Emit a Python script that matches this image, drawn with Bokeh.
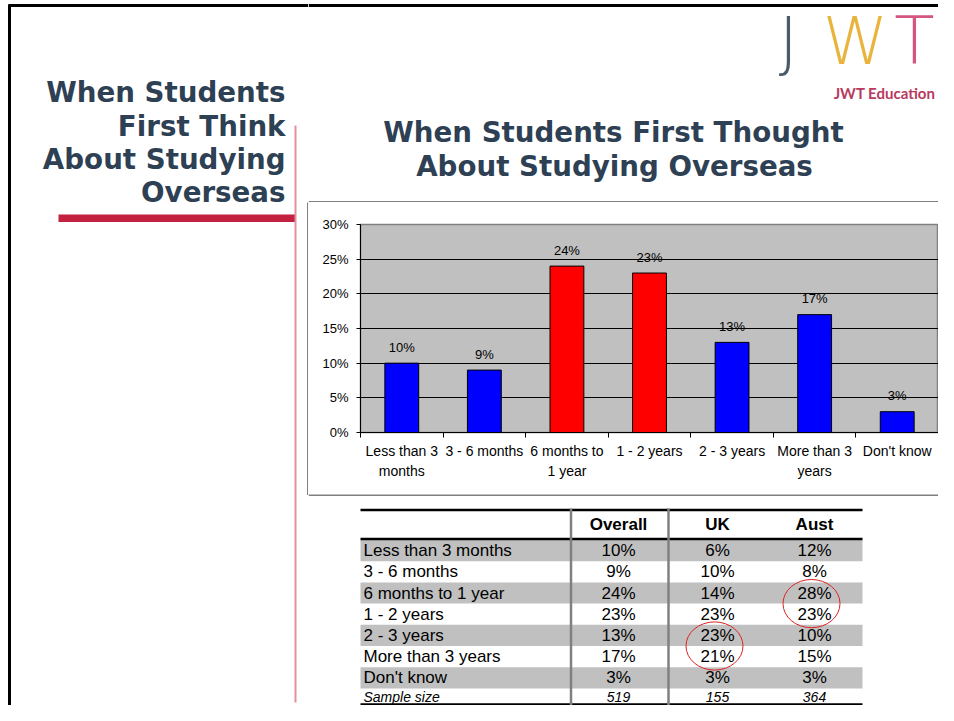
from bokeh.plotting import figure
from bokeh.layouts import row, column
from bokeh.models import Range1d, FixedTicker, NumeralTickFormatter, LabelSet, ColumnDataSource
from bokeh.core.properties import value
from bokeh.embed import file_html
from bokeh.resources import INLINE

# ---------------- data ----------------
categories = ["Less than 3 months", "3 - 6 months", "6 months to 1 year", "1 - 2 years",
              "2 - 3 years", "More than 3 years", "Don't know"]
axis_labels = ["Less than 3\nmonths", "3 - 6 months", "6 months to\n1 year", "1 - 2 years",
               "2 - 3 years", "More than 3\nyears", "Don't know"]
overall = [0.10, 0.09, 0.24, 0.23, 0.13, 0.17, 0.03]
uk = [0.06, 0.10, 0.14, 0.23, 0.23, 0.21, 0.03]
aust = [0.12, 0.08, 0.28, 0.23, 0.10, 0.15, 0.03]
highlighted = [False, False, True, True, False, False, False]
table_columns = ["Overall", "UK", "Aust"]
sample_sizes = [519, 155, 364]
circled = [("Aust", 2, 3), ("UK", 4, 5)]
y_ticks = [0.0, 0.05, 0.10, 0.15, 0.20, 0.25, 0.30]
side_title = ["When Students", "First Think", "About Studying", "Overseas"]
chart_title = ["When Students First Thought", "About Studying Overseas"]

# ---------------- style ----------------
TITLE_COLOR = "#2E4053"
TITLE_FONT = value("DejaVu Sans")
ARIAL = value("Liberation Sans")
BAR_BLUE = "#0000FF"
BAR_RED = "#FF0000"
GRAY = "#C0C0C0"

W_LEFT, W_RIGHT = 308, 630
H_HEAD, H_CHART, H_TABLE = 202, 292, 211


def canvas(w, h, x0, x1, y0, y1):
    p = figure(width=w, height=h, x_range=Range1d(x0, x1), y_range=Range1d(y1, y0),
               output_backend="svg", toolbar_location=None,
               x_axis_location=None, y_axis_location=None,
               min_border=0, outline_line_color=None)
    p.frame_align = False
    p.xgrid.visible = False
    p.ygrid.visible = False
    p.background_fill_color = "white"
    p.border_fill_color = "white"
    return p


# ---------------- left panel ----------------
left = canvas(W_LEFT, H_HEAD + H_CHART + H_TABLE, 0, W_LEFT, 0, H_HEAD + H_CHART + H_TABLE)
left.segment(x0=[8], y0=[5], x1=[W_LEFT], y1=[5], line_color="black", line_width=3)
left.segment(x0=[9], y0=[4], x1=[9], y1=[705], line_color="black", line_width=3)
left.text(x=[285] * 4, y=[92, 125.5, 158.5, 191.5], text=side_title, text_align="right",
          text_baseline="middle", text_font=TITLE_FONT, text_font_style="bold",
          text_font_size="27.7px", text_color=TITLE_COLOR)
left.quad(left=[58], right=[295], top=[214], bottom=[221.5], fill_color="#C4203F", line_color=None)
left.segment(x0=[295], y0=[125], x1=[295], y1=[702], line_color="#E38FA2", line_width=2)
left.segment(x0=[307.5], y0=[202], x1=[307.5], y1=[494.5], line_color="black", line_width=1)

# ---------------- header ----------------
x0r, x1r = W_LEFT, W_LEFT + W_RIGHT
header = canvas(W_RIGHT, H_HEAD, x0r, x1r, 0, H_HEAD)
header.segment(x0=[x0r], y0=[5], x1=[x1r], y1=[5], line_color="black", line_width=3)
header.text(x=[613, 614], y=[131.5, 165.5], text=chart_title, text_align="center",
            text_baseline="middle", text_font=TITLE_FONT, text_font_style="bold",
            text_font_size="27.7px", text_color=TITLE_COLOR)
logo_font = value("DejaVu Sans Light")
header.text(x=[788, 855, 914], y=[41, 41, 41], text=["J", "W", "T"], text_align="center",
            text_baseline="middle", text_font=logo_font, text_font_size="66px",
            text_color=["#4B5B6B", "#E9B43C", "#D4567F"])
header.text(x=[884], y=[92], text=["JWT Education"], text_align="center",
            text_baseline="middle", text_font=value("Lato"), text_font_style="bold",
            text_font_size="15px", text_color="#B83A5E")
header.segment(x0=[x0r], y0=[201.5], x1=[x1r], y1=[201.5], line_color="black", line_width=1)

# ---------------- bar chart ----------------
chart = figure(width=W_RIGHT, height=H_CHART, x_range=Range1d(-0.5, 6.5), y_range=Range1d(0, 0.30),
               output_backend="svg", toolbar_location=None,
               min_border_left=52, min_border_right=0, min_border_top=22, min_border_bottom=62)
chart.frame_align = False
chart.background_fill_color = GRAY
chart.border_fill_color = "white"
chart.outline_line_color = "#808080"
chart.outline_line_width = 1.5

src = ColumnDataSource(dict(
    x=list(range(len(categories))),
    top=overall,
    color=[BAR_RED if h else BAR_BLUE for h in highlighted],
    label=[f"{round(v * 100)}%" for v in overall],
))
chart.vbar(x="x", top="top", width=0.41, source=src, fill_color="color",
           line_color="black", line_width=1)
chart.add_layout(LabelSet(x="x", y="top", text="label", source=src, text_align="center",
                          text_baseline="middle", y_offset=16, text_font=ARIAL,
                          text_font_size="13px", text_color="black"))

chart.xgrid.visible = False
chart.ygrid.ticker = FixedTicker(ticks=y_ticks[1:-1])
chart.ygrid.grid_line_color = "black"
chart.ygrid.grid_line_width = 1

ya = chart.yaxis[0]
ya.ticker = FixedTicker(ticks=y_ticks)
ya.formatter = NumeralTickFormatter(format="0%")
ya.major_tick_out = 4
ya.major_tick_in = 0
ya.minor_tick_line_color = None
ya.major_label_standoff = 8
ya.major_label_text_font = "Liberation Sans"
ya.major_label_text_font_size = "13px"
ya.major_label_text_color = "black"
ya.axis_line_color = "black"

xa = chart.xaxis[0]
xa.ticker = FixedTicker(ticks=list(range(len(categories))),
                        minor_ticks=[i - 0.5 for i in range(len(categories) + 1)])
xa.major_label_overrides = {i: lab for i, lab in enumerate(axis_labels)}
xa.major_tick_line_color = None
xa.major_tick_out = 5
xa.major_tick_in = 0
xa.minor_tick_line_color = "black"
xa.minor_tick_out = 5
xa.minor_tick_in = 0
xa.major_label_standoff = 5
xa.major_label_text_font = "Liberation Sans"
xa.major_label_text_font_size = "14px"
xa.major_label_text_line_height = 1.28
xa.major_label_text_color = "black"
xa.axis_line_color = "black"

# ---------------- table ----------------
y0t = H_HEAD + H_CHART
table = canvas(W_RIGHT, H_TABLE, x0r, x1r, y0t, y0t + H_TABLE)
table.segment(x0=[x0r], y0=[494.5], x1=[x1r], y1=[494.5], line_color="black", line_width=1)

T_LEFT, T_RIGHT = 360, 862
col_x = [618, 717, 814]
row_top0, row_h = 539.5, 21.2
n = len(categories)
row_top = [row_top0 + k * row_h for k in range(n)]
row_mid = [t + row_h / 2 for t in row_top]

band = [k for k in range(n) if k % 2 == 0]
table.quad(left=[T_LEFT] * len(band), right=[T_RIGHT] * len(band),
           top=[row_top[k] for k in band], bottom=[row_top[k] + row_h for k in band],
           fill_color=GRAY, line_color=None)

table.text(x=[363] * n, y=row_mid, text=categories, text_align="left", text_baseline="middle",
           text_font=ARIAL, text_font_size="17px", text_color="black")
for cx, vals in zip(col_x, [overall, uk, aust]):
    table.text(x=[cx] * n, y=row_mid, text=[f"{round(v * 100)}%" for v in vals],
               text_align="center", text_baseline="middle", text_font=ARIAL,
               text_font_size="17px", text_color="black")
table.text(x=col_x, y=[524] * 3, text=table_columns, text_align="center", text_baseline="middle",
           text_font=ARIAL, text_font_style="bold", text_font_size="17px", text_color="black")
sample_y = row_top[-1] + row_h + 8.5
table.text(x=[363], y=[sample_y], text=["Sample size"], text_align="left", text_baseline="middle",
           text_font=ARIAL, text_font_style="italic", text_font_size="14px", text_color="black")
table.text(x=col_x, y=[sample_y] * 3, text=[str(s) for s in sample_sizes], text_align="center",
           text_baseline="middle", text_font=ARIAL, text_font_style="italic",
           text_font_size="14px", text_color="black")

table.segment(x0=[T_LEFT] * 3, y0=[509.5, 538.5, 704], x1=[T_RIGHT] * 3, y1=[509.5, 538.5, 704],
              line_color="black", line_width=[2.5, 2.5, 2.5])
table.segment(x0=[570.5, 668], y0=[508, 508], x1=[570.5, 668], y1=[705, 705],
              line_color="#808080", line_width=2.5)

for colname, r0, r1 in circled:
    cx = col_x[table_columns.index(colname)] - 3
    cy = (row_mid[r0] + row_mid[r1]) / 2
    table.ellipse(x=[cx], y=[cy], width=[57], height=[(row_mid[r1] - row_mid[r0]) + 27],
                  fill_color=None, line_color="#DD2222", line_width=1)

layout = row(left, column(header, chart, table))
open("out.html", "w").write(file_html(layout, INLINE))
